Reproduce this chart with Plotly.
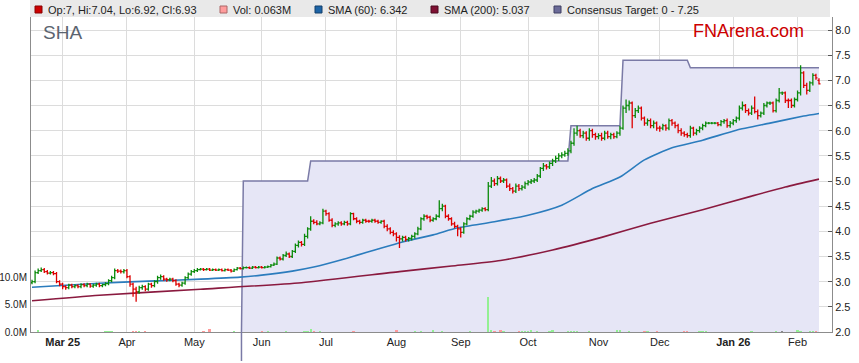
import pandas as pd
import plotly.graph_objects as go

# ---------------- data ----------------
first_day = "2025-02-17"
n_days = 258
dates = pd.bdate_range(first_day, periods=n_days)

closes = [
    3.00, 3.18, 3.22, 3.24, 3.20,  3.17, 3.18, 3.16, 3.00, 2.95,
    2.90, 2.88, 2.93, 2.90, 2.92,  2.90, 2.94, 2.92, 2.95, 2.91,
    2.93, 2.95, 2.92, 2.94, 2.96,  3.02, 3.08, 3.22, 3.21, 3.20,
    3.22, 3.10, 2.95, 2.85, 2.80,  2.88, 2.90, 2.85, 2.95, 2.92,
    3.00, 3.08, 3.10, 3.05, 3.04,  3.05, 3.02, 2.95, 2.93, 2.97,
    3.08, 3.15, 3.20, 3.22, 3.24,  3.25, 3.24, 3.25, 3.23, 3.24,
    3.23, 3.24, 3.22, 3.24, 3.23,  3.21, 3.24, 3.27, 3.26, 3.28,
    3.28, 3.27, 3.29, 3.28, 3.29,  3.28, 3.29, 3.30, 3.33, 3.35,
    3.47, 3.45, 3.52, 3.55, 3.50,  3.60, 3.72, 3.78, 3.74, 3.90,
    4.05, 4.20, 4.18, 4.15, 4.17,  4.40, 4.35, 4.22, 4.12, 4.15,
    4.17, 4.15, 4.18, 4.15, 4.35,  4.25, 4.20, 4.18, 4.22, 4.20,
    4.20, 4.22, 4.20, 4.18, 4.20,  4.10, 4.05, 3.98, 3.95, 3.88,
    3.85, 3.88, 3.84, 3.86, 3.90,  3.95, 4.05, 4.25, 4.30, 4.28,
    4.22, 4.25, 4.30, 4.45, 4.50,  4.30, 4.25, 4.15, 4.10, 4.05,
    3.98, 4.15, 4.25, 4.30, 4.38,  4.40, 4.42, 4.45, 4.43, 4.90,
    5.00, 4.95, 5.05, 5.00, 5.02,  4.90, 4.85, 4.80, 4.90, 4.85,
    4.88, 4.95, 4.98, 5.00, 5.02,  5.10, 5.25, 5.30, 5.28, 5.35,
    5.40, 5.45, 5.50, 5.52, 5.55,  5.60, 5.75, 5.95, 6.00, 5.90,
    5.95, 5.85, 6.00, 5.92, 5.88,  5.90, 5.85, 5.95, 5.88, 5.92,
    5.88, 5.95, 6.05, 6.45, 6.50,  6.55, 6.30, 6.40, 6.45, 6.25,
    6.15, 6.20, 6.10, 6.15, 6.05,  6.05, 6.10, 6.05, 6.20, 6.15,
    6.10, 6.00, 5.95, 5.92, 5.90,  6.05, 5.95, 6.00, 6.05, 6.10,
    6.15, 6.15, 6.15, 6.15, 6.12,  6.18, 6.20, 6.10, 6.15, 6.20,
    6.25, 6.45, 6.50, 6.40, 6.35,  6.45, 6.38, 6.30, 6.35, 6.50,
    6.55, 6.55, 6.40, 6.60, 6.75,  6.75, 6.60, 6.60, 6.50, 6.62,
    6.75, 7.15, 6.90, 6.80, 6.95,  7.10, 7.05, 6.93,
]

opens = [
    2.98, 3.00, 3.18, 3.22, 3.24,  3.20, 3.17, 3.18, 3.16, 3.00,
    2.95, 2.90, 2.88, 2.93, 2.90,  2.92, 2.90, 2.94, 2.92, 2.95,
    2.91, 2.93, 2.95, 2.92, 2.94,  2.96, 3.02, 3.08, 3.22, 3.21,
    3.20, 3.22, 3.10, 2.95, 2.85,  2.80, 2.88, 2.90, 2.85, 2.95,
    2.92, 3.00, 3.08, 3.10, 3.05,  3.04, 3.05, 3.02, 2.95, 2.93,
    2.97, 3.08, 3.15, 3.20, 3.22,  3.24, 3.25, 3.24, 3.25, 3.23,
    3.24, 3.23, 3.24, 3.22, 3.24,  3.23, 3.21, 3.24, 3.27, 3.26,
    3.28, 3.28, 3.27, 3.29, 3.28,  3.29, 3.28, 3.29, 3.30, 3.33,
    3.35, 3.47, 3.45, 3.52, 3.55,  3.50, 3.60, 3.72, 3.78, 3.74,
    3.90, 4.05, 4.20, 4.18, 4.15,  4.17, 4.40, 4.35, 4.22, 4.12,
    4.15, 4.17, 4.15, 4.18, 4.15,  4.35, 4.25, 4.20, 4.18, 4.22,
    4.20, 4.20, 4.22, 4.20, 4.18,  4.20, 4.10, 4.05, 3.98, 3.95,
    3.88, 3.85, 3.88, 3.84, 3.86,  3.90, 3.95, 4.05, 4.25, 4.30,
    4.28, 4.22, 4.25, 4.30, 4.45,  4.50, 4.30, 4.25, 4.15, 4.10,
    4.05, 3.98, 4.15, 4.25, 4.30,  4.38, 4.40, 4.42, 4.45, 4.43,
    4.90, 5.00, 4.95, 5.05, 5.00,  5.02, 4.90, 4.85, 4.80, 4.90,
    4.85, 4.88, 4.95, 4.98, 5.00,  5.02, 5.10, 5.25, 5.30, 5.28,
    5.35, 5.40, 5.45, 5.50, 5.52,  5.55, 5.60, 5.75, 5.95, 6.00,
    5.90, 5.95, 5.85, 6.00, 5.92,  5.88, 5.90, 5.85, 5.95, 5.88,
    5.92, 5.88, 5.95, 6.05, 6.45,  6.50, 6.55, 6.30, 6.40, 6.45,
    6.25, 6.15, 6.20, 6.10, 6.15,  6.05, 6.05, 6.10, 6.05, 6.20,
    6.15, 6.10, 6.00, 5.95, 5.92,  5.90, 6.05, 5.95, 6.00, 6.05,
    6.10, 6.15, 6.15, 6.15, 6.15,  6.12, 6.18, 6.20, 6.10, 6.15,
    6.20, 6.25, 6.45, 6.50, 6.40,  6.35, 6.45, 6.38, 6.30, 6.35,
    6.50, 6.55, 6.55, 6.40, 6.60,  6.75, 6.75, 6.60, 6.60, 6.50,
    6.62, 6.75, 7.15, 6.90, 6.80,  6.95, 7.10, 7.00,
]

highs = [
    3.04, 3.22, 3.26, 3.28, 3.27,  3.23, 3.21, 3.21, 3.19, 3.03,
    2.98, 2.93, 2.96, 2.96, 2.95,  2.95, 2.97, 2.97, 2.98, 2.97,
    2.96, 2.98, 2.98, 2.96, 2.99,  3.05, 3.12, 3.26, 3.25, 3.24,
    3.25, 3.25, 3.13, 2.98, 2.90,  2.92, 2.94, 2.93, 2.98, 2.98,
    3.03, 3.12, 3.14, 3.13, 3.08,  3.08, 3.08, 3.05, 2.98, 3.00,
    3.11, 3.18, 3.23, 3.25, 3.27,  3.27, 3.27, 3.27, 3.27, 3.26,
    3.26, 3.26, 3.26, 3.26, 3.26,  3.25, 3.26, 3.29, 3.29, 3.30,
    3.30, 3.30, 3.31, 3.31, 3.31,  3.31, 3.31, 3.32, 3.35, 3.38,
    3.50, 3.50, 3.55, 3.60, 3.58,  3.63, 3.76, 3.82, 3.81, 3.95,
    4.08, 4.30, 4.24, 4.22, 4.20,  4.45, 4.43, 4.38, 4.26, 4.18,
    4.20, 4.20, 4.21, 4.21, 4.38,  4.37, 4.28, 4.23, 4.25, 4.25,
    4.23, 4.25, 4.25, 4.23, 4.22,  4.23, 4.14, 4.08, 4.02, 3.98,
    3.92, 3.91, 3.91, 3.89, 3.93,  3.98, 4.09, 4.28, 4.34, 4.33,
    4.31, 4.28, 4.34, 4.62, 4.55,  4.53, 4.34, 4.28, 4.19, 4.13,
    4.08, 4.18, 4.28, 4.33, 4.42,  4.43, 4.45, 4.48, 4.48, 4.98,
    5.08, 5.05, 5.10, 5.09, 5.06,  5.05, 4.95, 4.88, 4.95, 4.94,
    4.92, 4.99, 5.02, 5.04, 5.06,  5.14, 5.28, 5.36, 5.34, 5.39,
    5.44, 5.50, 5.55, 5.57, 5.60,  5.65, 5.80, 6.05, 6.10, 6.04,
    6.00, 5.99, 6.05, 6.04, 5.96,  5.95, 5.96, 6.00, 6.00, 5.96,
    5.96, 5.99, 6.10, 6.50, 6.62,  6.60, 6.58, 6.45, 6.50, 6.48,
    6.28, 6.24, 6.24, 6.20, 6.18,  6.10, 6.14, 6.13, 6.24, 6.23,
    6.18, 6.14, 6.05, 5.99, 5.96,  6.10, 6.08, 6.04, 6.09, 6.14,
    6.18, 6.17, 6.17, 6.17, 6.17,  6.21, 6.23, 6.24, 6.19, 6.23,
    6.28, 6.50, 6.58, 6.53, 6.44,  6.50, 6.68, 6.42, 6.38, 6.55,
    6.58, 6.58, 6.58, 6.64, 6.85,  6.78, 6.78, 6.64, 6.64, 6.66,
    6.80, 7.30, 7.18, 6.95, 6.98,  7.14, 7.13, 7.04,
]

lows = [
    2.95, 2.97, 3.15, 3.19, 3.17,  3.14, 3.14, 3.13, 2.97, 2.91,
    2.85, 2.84, 2.85, 2.87, 2.87,  2.87, 2.87, 2.89, 2.89, 2.88,
    2.88, 2.90, 2.89, 2.89, 2.91,  2.93, 2.99, 3.05, 3.17, 3.16,
    3.16, 3.07, 2.90, 2.70, 2.60,  2.76, 2.84, 2.81, 2.82, 2.88,
    2.89, 2.96, 3.04, 3.02, 3.00,  3.01, 2.99, 2.92, 2.89, 2.90,
    2.94, 3.05, 3.12, 3.17, 3.19,  3.22, 3.21, 3.22, 3.21, 3.21,
    3.21, 3.21, 3.20, 3.20, 3.21,  3.18, 3.19, 3.22, 3.24, 3.24,
    3.26, 3.25, 3.25, 3.26, 3.26,  3.26, 3.26, 3.27, 3.28, 3.31,
    3.33, 3.42, 3.42, 3.49, 3.47,  3.47, 3.57, 3.68, 3.70, 3.71,
    3.86, 4.01, 4.14, 4.12, 4.12,  4.14, 4.31, 4.19, 4.08, 4.08,
    4.11, 4.11, 4.12, 4.11, 4.12,  4.22, 4.16, 4.14, 4.15, 4.17,
    4.17, 4.17, 4.17, 4.15, 4.15,  4.06, 4.00, 3.94, 3.90, 3.80,
    3.67, 3.80, 3.80, 3.80, 3.82,  3.86, 3.92, 4.02, 4.21, 4.24,
    4.18, 4.19, 4.22, 4.27, 4.40,  4.26, 4.21, 4.11, 4.06, 3.90,
    3.88, 3.95, 4.12, 4.22, 4.27,  4.35, 4.37, 4.39, 4.40, 4.40,
    4.86, 4.90, 4.91, 4.96, 4.96,  4.86, 4.80, 4.75, 4.76, 4.80,
    4.81, 4.84, 4.91, 4.94, 4.96,  4.98, 5.06, 5.20, 5.23, 5.24,
    5.30, 5.36, 5.40, 5.45, 5.48,  5.50, 5.55, 5.70, 5.90, 5.86,
    5.85, 5.80, 5.80, 5.86, 5.82,  5.83, 5.80, 5.81, 5.84, 5.83,
    5.84, 5.85, 5.90, 6.02, 6.35,  6.40, 6.05, 6.25, 6.35, 6.20,
    6.10, 6.10, 6.05, 6.05, 6.00,  5.98, 6.01, 6.00, 6.01, 6.10,
    6.05, 5.95, 5.90, 5.88, 5.86,  5.86, 5.90, 5.91, 5.96, 6.01,
    6.07, 6.13, 6.13, 6.13, 6.09,  6.09, 6.14, 6.06, 6.06, 6.11,
    6.16, 6.20, 6.40, 6.35, 6.30,  6.31, 6.34, 6.22, 6.26, 6.31,
    6.46, 6.51, 6.36, 6.36, 6.56,  6.71, 6.55, 6.45, 6.45, 6.46,
    6.58, 6.70, 6.85, 6.72, 6.77,  6.90, 7.01, 6.92,
]

# volume in millions of shares
volumes_m = [
    0.08, 0.06, 0.35, 0.07, 0.05,  0.06, 0.05, 0.07, 0.06, 0.05,
    0.06, 0.05, 0.06, 0.07, 0.05,  0.05, 0.06, 0.05, 0.07, 0.06,
    0.05, 0.06, 0.05, 0.06, 0.15,  0.12, 0.15, 0.08, 0.06, 0.05,
    0.06, 0.07, 0.08, 0.10, 0.12,  0.20, 0.08, 0.20, 0.07, 0.06,
    0.06, 0.05, 0.06, 0.05, 0.06,  0.05, 0.06, 0.05, 0.05, 0.06,
    0.06, 0.05, 0.06, 0.05, 0.06,  0.05, 0.15, 0.06, 0.55, 0.05,
    0.05, 0.06, 0.05, 0.05, 0.06,  0.05, 0.10, 0.05, 0.06, 0.05,
    0.06, 0.05, 0.06, 0.05, 0.06,  0.15, 0.06, 0.12, 0.05, 0.06,
    0.07, 0.06, 0.08, 0.15, 0.06,  0.07, 0.08, 0.07, 0.06, 0.10,
    0.25, 0.55, 0.20, 0.08, 0.15,  0.08, 0.07, 0.06, 0.06, 0.05,
    0.05, 0.06, 0.05, 0.05, 0.06,  0.15, 0.05, 0.06, 0.05, 0.05,
    0.06, 0.05, 0.05, 0.06, 0.05,  0.06, 0.05, 0.06, 0.05, 0.35,
    0.06, 0.05, 0.06, 0.05, 0.06,  0.12, 0.06, 0.15, 0.06, 0.05,
    0.06, 0.35, 0.05, 0.06, 0.20,  0.06, 0.05, 0.06, 0.05, 0.06,
    0.05, 0.06, 0.05, 0.15, 0.06,  0.05, 0.06, 0.05, 0.06, 6.40,
    0.40, 0.20, 0.06, 0.40, 0.15,  0.06, 0.05, 0.06, 0.05, 0.15,
    0.15, 0.15, 0.15, 0.40, 0.06,  0.15, 0.06, 0.05, 0.06, 0.25,
    0.30, 0.06, 0.05, 0.06, 0.05,  0.15, 0.15, 0.15, 0.15, 0.06,
    0.05, 0.06, 0.15, 0.05, 0.06,  0.05, 0.06, 0.05, 0.06, 0.05,
    0.06, 0.40, 0.40, 0.08, 0.06,  0.15, 0.06, 0.05, 0.06, 0.05,
    0.20, 0.20, 0.05, 0.06, 0.15,  0.05, 0.06, 0.05, 0.06, 0.05,
    0.06, 0.05, 0.06, 0.20, 0.15,  0.06, 0.05, 0.06, 0.15, 0.15,
    0.15, 0.05, 0.06, 0.05, 0.06,  0.05, 0.06, 0.05, 0.06, 0.05,
    0.06, 0.05, 0.06, 0.05, 0.06,  0.10, 0.05, 0.06, 0.05, 0.06,
    0.05, 0.06, 0.05, 0.10, 0.06,  0.15, 0.05, 0.06, 0.05, 0.06,
    0.35, 0.15, 0.06, 0.05, 0.15,  0.15, 0.15, 0.063,
]

sma60_dates = ["2025-02-17", "2025-03-19", "2025-04-10", "2025-05-05", "2025-05-22",
               "2025-06-02", "2025-06-16", "2025-06-25", "2025-07-09", "2025-07-24",
               "2025-08-05", "2025-08-19", "2025-08-29", "2025-09-16", "2025-10-01",
               "2025-10-16", "2025-10-30", "2025-11-12", "2025-11-24", "2025-12-05",
               "2025-12-19", "2026-01-05", "2026-01-20", "2026-02-04", "2026-02-11"]
sma60_values = [2.89, 2.97, 3.01, 3.05, 3.09,
                3.13, 3.21, 3.29, 3.45, 3.65,
                3.79, 3.93, 4.07, 4.19, 4.32,
                4.52, 4.85, 5.08, 5.42, 5.66,
                5.81, 6.01, 6.15, 6.29, 6.342]

sma200_dates = ["2025-02-17", "2025-03-19", "2025-05-05", "2025-06-19", "2025-08-04",
                "2025-08-27", "2025-09-18", "2025-10-13", "2025-11-04", "2025-11-26",
                "2025-12-19", "2026-01-12", "2026-01-27", "2026-02-11"]
sma200_values = [2.62, 2.73, 2.85, 2.98, 3.20,
                 3.31, 3.42, 3.63, 3.88, 4.16,
                 4.43, 4.70, 4.88, 5.037]

target_dates = ["2025-02-17", "2025-05-22", "2025-05-23", "2025-06-23", "2025-06-24",
                "2025-10-20", "2025-10-21", "2025-11-12", "2025-11-13", "2025-12-12",
                "2025-12-15", "2026-02-11"]
target_values = [0, 0, 5.0, 5.0, 5.4, 5.4, 6.1, 6.1, 7.4, 7.4, 7.25, 7.25]

month_ticks = ["2025-03-03", "2025-04-01", "2025-05-01", "2025-06-02", "2025-07-01",
               "2025-08-01", "2025-09-01", "2025-10-01", "2025-11-03", "2025-12-01",
               "2026-01-02", "2026-02-02"]
month_labels = ["<b>Mar 25</b>", "Apr", "May", "Jun", "Jul", "Aug", "Sep", "Oct",
                "Nov", "Dec", "<b>Jan 26</b>", "Feb"]

price_ticks = [2.0, 2.5, 3.0, 3.5, 4.0, 4.5, 5.0, 5.5, 6.0, 6.5, 7.0, 7.5, 8.0]
volume_ticks = [0, 5, 10]
volume_labels = ["0.0M", "5.0M", "10.0M"]

ticker = "SHA"
brand = "FNArena.com"

# ---------------- styling ----------------
W, H = 859, 363
L_PX, R_PX, T_PX, B_PX = 31, 832, 17, 332
FONT = "Arial, Liberation Sans, sans-serif"
UP, DOWN = "#0a8a0a", "#dd0000"
SMA60_C, SMA200_C = "#2b7cbd", "#8a1a3f"
TGT_LINE, TGT_FILL = "#7a7aa6", "#e6e6f6"
PRICE_RANGE = [2.0, 2.0 + (B_PX - T_PX) / 50.33]


def px(x):
    return (x - L_PX) / (R_PX - L_PX)


def py(y):
    return (B_PX - y) / (B_PX - T_PX)


vol_colors = []
for o, c in zip(opens, closes):
    if c > o:
        vol_colors.append("#93f093")
    elif c < o:
        vol_colors.append("#ff9a9a")
    else:
        vol_colors.append("#8a8a8a")

fig = go.Figure()

# base layer: consensus target area + moving averages
fig.add_trace(go.Scatter(
    x=target_dates, y=target_values, mode="lines",
    line=dict(color=TGT_LINE, width=1.5), fill="tozeroy", fillcolor=TGT_FILL,
    hoverinfo="skip", showlegend=False, yaxis="y"))

fig.add_trace(go.Scatter(
    x=sma200_dates, y=sma200_values, mode="lines",
    line=dict(color=SMA200_C, width=1.6, shape="spline", smoothing=0.6),
    showlegend=False, yaxis="y"))

fig.add_trace(go.Scatter(
    x=sma60_dates, y=sma60_values, mode="lines",
    line=dict(color=SMA60_C, width=1.6, shape="spline", smoothing=0.6),
    showlegend=False, yaxis="y"))

# volume overlay (left axis)
fig.add_trace(go.Bar(
    x=dates, y=volumes_m, marker=dict(color=vol_colors, line=dict(width=0)),
    width=0.75 * 86400000, showlegend=False, yaxis="y2"))

# price bars overlay (same scale as the right axis)
fig.add_trace(go.Ohlc(
    x=dates, open=opens, high=highs, low=lows, close=closes,
    increasing=dict(line=dict(color=UP, width=1.3)),
    decreasing=dict(line=dict(color=DOWN, width=1.3)),
    tickwidth=0.5, showlegend=False, yaxis="y3"))

# vertical continuation of the first target jump below the axis
i_jump = next(i for i in range(1, len(target_values))
              if target_values[i - 1] == 0 and target_values[i] > 0)
d0 = pd.Timestamp(target_dates[i_jump - 1])
d1 = pd.Timestamp(target_dates[i_jump])
frac = (PRICE_RANGE[0] - target_values[i_jump - 1]) / (target_values[i_jump] - target_values[i_jump - 1])
x_jump = d0 + (d1 - d0) * frac

shapes = [
    dict(type="rect", xref="paper", yref="paper", x0=px(30), x1=px(830),
         y0=1.0, y1=py(0), fillcolor="#e9e9e9", line=dict(width=0), layer="below"),
    dict(type="line", xref="x", yref="paper", x0=x_jump, x1=x_jump,
         y0=py(361), y1=0, line=dict(color=TGT_LINE, width=1.5)),
]

last = n_days - 1
legend_items = [
    (35, "#cc0000", "#880000",
     f"Op:{opens[last]:g}, Hi:{highs[last]:g}, Lo:{lows[last]:g}, Cl:{closes[last]:g}"),
    (220, "#ff9c9c", "#aa6666", f"Vol: {volumes_m[last]:.3f}M"),
    (315, "#1d64a6", "#123f6a", f"SMA (60): {sma60_values[-1]:.3f}"),
    (431, "#7e1133", "#4a0a1e", f"SMA (200): {sma200_values[-1]:.3f}"),
    (554, "#6b6b98", "#3f3f63",
     f"Consensus Target: {min(target_values):g} - {target_values[-1]:g}"),
]

annotations = []
for x0, fc, lc, txt in legend_items:
    shapes.append(dict(type="rect", xref="paper", yref="paper",
                       x0=px(x0), x1=px(x0 + 7), y0=py(13), y1=py(6),
                       fillcolor=fc, line=dict(color=lc, width=1)))
    annotations.append(dict(xref="paper", yref="paper", x=px(x0 + 11), y=py(9.5),
                            xanchor="left", yanchor="middle", showarrow=False,
                            text=txt, font=dict(family=FONT, size=11, color="#222222")))

annotations.append(dict(xref="paper", yref="paper", x=px(41), y=py(32),
                        xanchor="left", yanchor="middle", showarrow=False, text=ticker,
                        font=dict(family=FONT, size=19, color="#5b6470")))
annotations.append(dict(xref="paper", yref="paper", x=px(691), y=py(31),
                        xanchor="left", yanchor="middle", showarrow=False, text=brand,
                        font=dict(family=FONT, size=18, color="#cc0000")))

fig.update_layout(
    width=W, height=H,
    margin=dict(l=L_PX, r=W - R_PX, t=T_PX, b=H - B_PX, pad=0, autoexpand=False),
    paper_bgcolor="white", plot_bgcolor="white",
    font=dict(family=FONT, size=11, color="#222222"),
    showlegend=False, bargap=0,
    xaxis=dict(
        type="date", rangebreaks=[dict(bounds=["sat", "mon"])],
        range=["2025-02-14 16:00", "2026-02-17 06:00"],
        tickmode="array", tickvals=month_ticks, ticktext=month_labels,
        showgrid=True, gridcolor="#dcdcdc", gridwidth=1,
        showline=True, linecolor="#8c8c8c", linewidth=1,
        ticks="", tickfont=dict(size=11, color="#222222"),
        rangeslider=dict(visible=False), zeroline=False, automargin=False),
    yaxis=dict(
        side="right", range=PRICE_RANGE,
        tickmode="array", tickvals=price_ticks,
        ticktext=[f"{v:.1f}" for v in price_ticks],
        showgrid=True, gridcolor="#dcdcdc", gridwidth=1,
        showline=True, linecolor="#8c8c8c", linewidth=1,
        ticks="inside", ticklen=4, tickcolor="#555555",
        tickfont=dict(size=11, color="#222222"), zeroline=False, automargin=False),
    yaxis2=dict(
        overlaying="y", side="left", range=[0, (B_PX - T_PX) / 5.5],
        tickmode="array", tickvals=volume_ticks, ticktext=volume_labels,
        showgrid=False, showline=True, linecolor="#8c8c8c", linewidth=1,
        ticks="", ticklabelstandoff=1,
        tickfont=dict(size=10, color="#222222"), zeroline=False, automargin=False),
    yaxis3=dict(
        overlaying="y", side="right", range=PRICE_RANGE, visible=False,
        showgrid=False, zeroline=False, automargin=False),
    shapes=shapes, annotations=annotations,
)

# the page's default 8px body margin would shift the figure; remove it
fig.write_html("out.html",
               config={"displayModeBar": False, "staticPlot": True},
               post_script="document.body.style.margin='0';"
                           "document.body.style.overflow='hidden';")
